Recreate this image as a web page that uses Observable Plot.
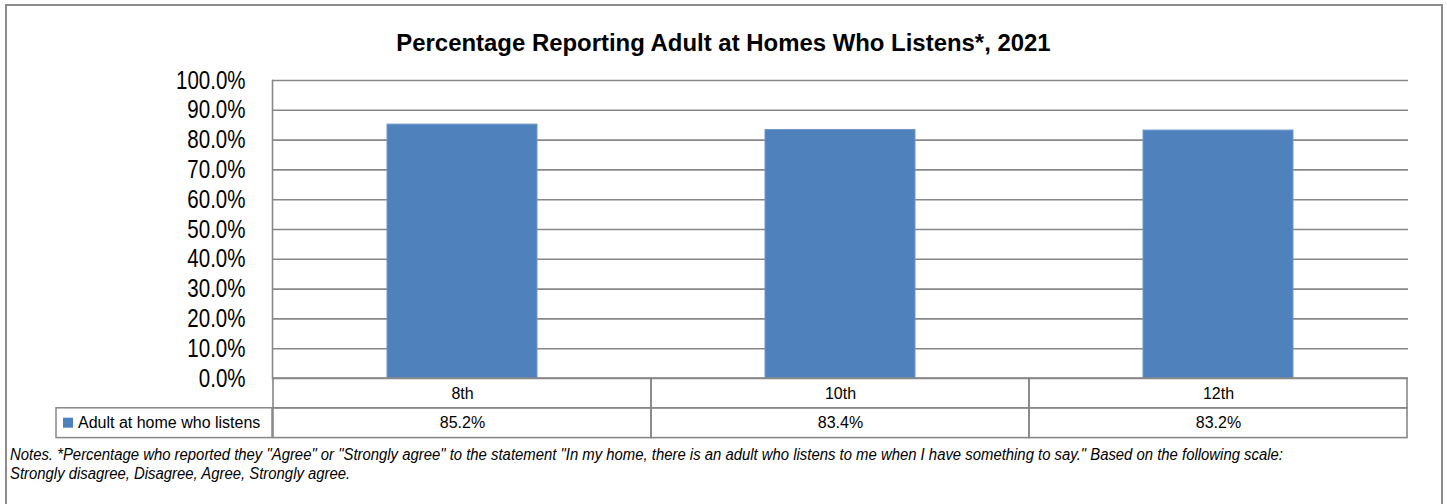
<!DOCTYPE html>
<html>
<head>
<meta charset="utf-8">
<script src="https://cdn.jsdelivr.net/npm/d3@7"></script>
<script src="https://cdn.jsdelivr.net/npm/@observablehq/plot@0.6"></script>
<style>
  html, body { margin: 0; padding: 0; background: #fff; }
  #wrap { position: relative; width: 1447px; height: 504px; overflow: hidden; font-family: "Liberation Sans", Arial, sans-serif; }
  #border { position: absolute; left: 5px; top: 4px; width: 1434px; height: 520px; border: 2px solid #8c8c8c; }
  #title { position: absolute; top: 30px; left: 0; width: 1447px; text-align: center; font-weight: bold; font-size: 23px; color: #000; transform: scaleX(1.04); transform-origin: 724px 0; }
  #chart { position: absolute; left: 0; top: 60px; }
  #notes { position: absolute; left: 10px; top: 445px; font-style: italic; font-size: 16px; line-height: 19px; color: #000; transform: scaleX(0.93); transform-origin: 0 0; white-space: nowrap; }
</style>
</head>
<body>
<div id="wrap">
  <div id="border"></div>
  <div id="title"></div>
  <div id="chart"></div>
  <div id="notes"></div>
</div>
<script>
const titleText = "Percentage Reporting Adult at Homes Who Listens*, 2021";
const grades = ["8th", "10th", "12th"];
const values = [85.2, 83.4, 83.2];
const seriesName = "Adult at home who listens";
const yTicks = [0, 10, 20, 30, 40, 50, 60, 70, 80, 90, 100];
const notesLines = [
  "Notes. *Percentage who reported they \"Agree\" or \"Strongly agree\" to the statement \"In my home, there is an adult who listens to me when I have something to say.\" Based on the following scale:",
  "Strongly disagree, Disagree, Agree, Strongly agree."
];

document.getElementById("title").textContent = titleText;
document.getElementById("notes").innerHTML = notesLines.map(s => s.replace(/&/g,"&amp;").replace(/</g,"&lt;")).join("<br>");

const data = grades.map((g, i) => ({grade: g, value: values[i]}));
const gridColor = "#878787";
const barColor = "#4f81bd";
const fontFam = "'Liberation Sans', Arial, sans-serif";

// legend cell drawn left of the plot frame, in the table's second row
function legendCell(index, scales, vals, dims) {
  const g = d3.create("svg:g");
  const yTop = scales.y(-10), yBot = scales.y(-20);
  const x1 = dims.marginLeft - 216, x2 = dims.marginLeft;
  g.append("rect").attr("x", x1).attr("y", yTop).attr("width", x2 - x1).attr("height", yBot - yTop)
    .attr("fill", "none").attr("stroke", gridColor).attr("stroke-width", 1.5);
  const cy = (yTop + yBot) / 2;
  g.append("rect").attr("x", x1 + 7).attr("y", cy - 5).attr("width", 10).attr("height", 10).attr("fill", barColor);
  g.append("text").attr("x", x1 + 22).attr("y", cy).attr("dy", "0.35em").attr("text-anchor", "start")
    .attr("font-size", 16).attr("fill", "#000").text(seriesName);
  return g.node();
}

const chart = Plot.plot({
  width: 1447,
  height: 385,
  marginLeft: 272,
  marginRight: 39,
  marginTop: 20,
  marginBottom: 67,
  style: {fontFamily: fontFam, fontSize: "25px", color: "#000", background: "transparent"},
  x: {domain: grades, padding: 0, axis: null},
  y: {domain: [0, 100], ticks: yTicks, tickFormat: d => d.toFixed(1) + "%", tickSize: 0, tickPadding: 27, label: null},
  marks: [
    Plot.ruleY(yTicks, {y: d => d, stroke: gridColor, strokeWidth: 1.6, strokeOpacity: 1}),
    Plot.frame({anchor: "left", stroke: gridColor, strokeWidth: 1.6, strokeOpacity: 1}),
    Plot.barY(data, {x: "grade", y: "value", fill: barColor, stroke: "#6f98cc", strokeWidth: 1, insetLeft: 114, insetRight: 114}),
    // table: category row and value row
    Plot.barY(grades, {x: d => d, y1: () => 0, y2: () => -10, fill: "none", stroke: gridColor, strokeWidth: 1.6}),
    Plot.barY(grades, {x: d => d, y1: () => -10, y2: () => -20, fill: "none", stroke: gridColor, strokeWidth: 1.6}),
    Plot.text(grades, {x: d => d, y: () => -5, text: d => d, fontSize: 16, fill: "#000"}),
    Plot.text(data, {x: "grade", y: () => -15, text: d => d.value.toFixed(1) + "%", fontSize: 16, fill: "#000"}),
    legendCell
  ]
});
document.getElementById("chart").appendChild(chart);

// condense the y-axis tick labels (the reference uses a narrow face)
d3.select(chart).selectAll('g[aria-label="y-axis tick label"] text, g[aria-label="y-axis"] text').each(function() {
  const w = this.getComputedTextLength();
  this.setAttribute("textLength", (w * 0.82).toFixed(2));
  this.setAttribute("lengthAdjust", "spacingAndGlyphs");
});
</script>
</body>
</html>
